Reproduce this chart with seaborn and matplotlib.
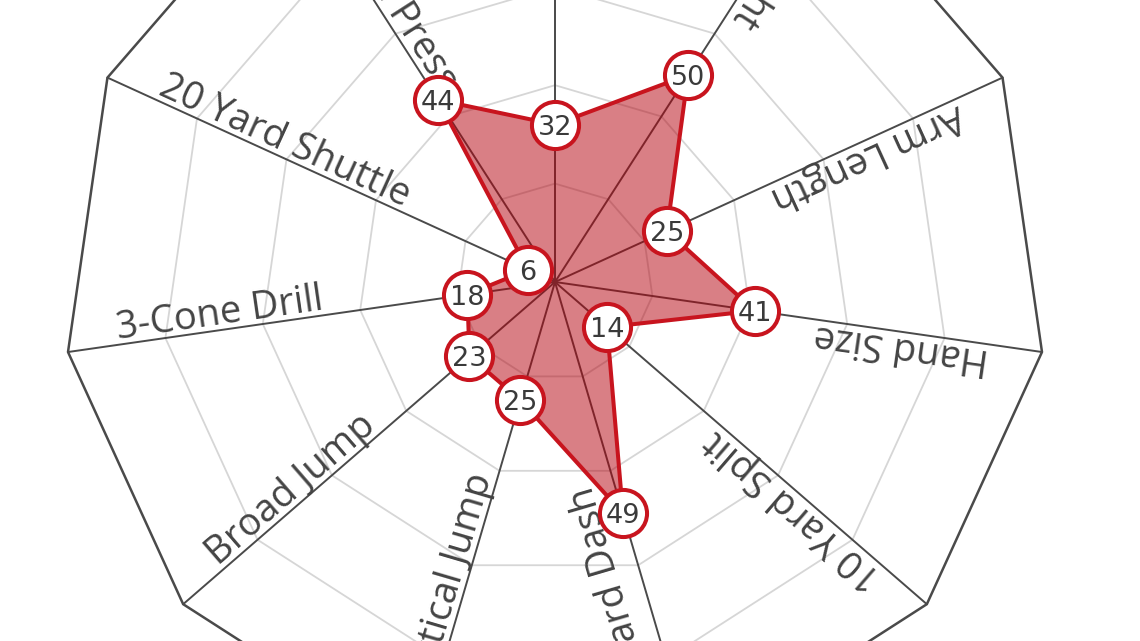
import numpy as np
import pandas as pd
import matplotlib
matplotlib.use("Agg")
import matplotlib.pyplot as plt
import seaborn as sns

# ---- data ----
categories = ["Height", "Weight", "Arm Length", "Hand Size", "10 Yard Split",
              "40 Yard Dash", "Vertical Jump", "Broad Jump", "3-Cone Drill",
              "20 Yard Shuttle", "Bench Press"]
percentiles = [32, 50, 25, 41, 14, 49, 25, 23, 18, 6, 44]
grid_levels = [20, 40, 60, 80]
outer_level = 100

sns.set_style("white")
plt.rcParams["font.family"] = ["Open Sans", "DejaVu Sans"]

LINE_RED = "#c8141e"
FILL_RED = "#b4000c"
SPOKE = "#4a4a4a"
GRID = "#d6d6d6"
TEXT = "#444444"

W, H = 1140, 641
cx, cy, R = 555, 282, 492

fig = plt.figure(figsize=(W / 100, H / 100), dpi=100)
fig.patch.set_facecolor("white")
ax = fig.add_axes([(cx - R) / W, (H - cy - R) / H, 2 * R / W, 2 * R / H],
                  projection="polar")
ax.set_theta_zero_location("N")
ax.set_theta_direction(-1)
ax.set_ylim(0, outer_level)
ax.grid(False)
ax.set_xticks([])
ax.set_yticks([])
ax.spines["polar"].set_visible(False)
ax.patch.set_visible(False)

n = len(categories)
theta = np.arange(n) * 2 * np.pi / n
theta_c = np.append(theta, theta[0])

# grid polygons
for lev in grid_levels:
    ax.plot(theta_c, [lev] * (n + 1), color=GRID, lw=1.3, zorder=1, clip_on=False)
ax.plot(theta_c, [outer_level] * (n + 1), color=SPOKE, lw=1.8, zorder=1, clip_on=False)
# spokes
for t in theta:
    ax.plot([t, t], [0, outer_level], color=SPOKE, lw=1.4, zorder=1, clip_on=False)

# data polygon
vals_c = np.append(percentiles, percentiles[0])
ax.fill(theta_c, vals_c, color=FILL_RED, alpha=0.5, lw=0, zorder=2)
ax.plot(theta_c, vals_c, color=LINE_RED, lw=2.9, zorder=3, solid_joinstyle="round")

df = pd.DataFrame({"theta": theta, "value": percentiles, "label": categories})
sns.scatterplot(data=df, x="theta", y="value", ax=ax, s=1150, color="white",
                edgecolor=LINE_RED, linewidth=2.9, zorder=4, legend=False, clip_on=False)
ax.set_xlabel("")
ax.set_ylabel("")

for t, v in zip(theta, percentiles):
    ax.text(t, v, str(v), ha="center", va="center_baseline", fontsize=19.5,
            color="#3a3a3a", family="DejaVu Sans", zorder=5)

# category labels along spokes (drawn beneath the markers)
extra_gap = {"40 Yard Dash": 12.0}
for t, lab in zip(theta, categories):
    deg = np.degrees(t)
    rot = (270 - deg) % 360
    up = np.radians(rot + 90)
    off = 4.0 + extra_gap.get(lab, 0.0)
    ax.annotate(lab, xy=(t, 89.5), xytext=(off * np.cos(up), off * np.sin(up)),
                textcoords="offset points", rotation=rot, rotation_mode="anchor",
                ha="left", va="baseline", fontsize=27.5, color=TEXT,
                annotation_clip=False, zorder=3.5)

fig.savefig("out.png", dpi=100)
